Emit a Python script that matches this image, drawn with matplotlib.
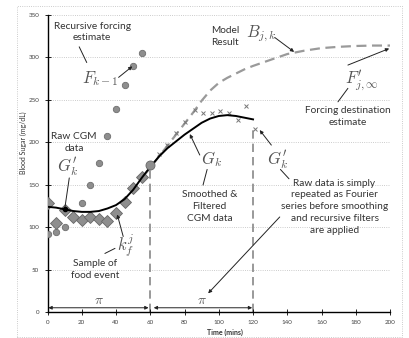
import matplotlib
matplotlib.use("Agg")
import matplotlib.pyplot as plt
from matplotlib.patches import Rectangle

plt.rcParams['font.family'] = ['Lato', 'DejaVu Sans']
plt.rcParams['mathtext.fontset'] = 'cm'

# raw CGM samples (circles)
raw_t = [0, 5, 10, 20, 25, 30, 35, 40, 45, 50, 55]
raw_bg = [92, 94, 100, 129, 150, 176, 207, 239, 267, 290, 305]

# filtered samples (diamonds)
filt_t = [0, 5, 10, 15, 20, 25, 30, 35, 40, 45, 50, 55]
filt_bg = [129, 105, 120, 112, 109, 112, 110, 107, 117, 130, 146, 159]

# repeated raw data (crosses)
rep_t = [65, 70, 75, 80, 86, 91, 96, 101, 106, 111, 116, 121]
rep_bg = [186, 197, 211, 224, 238, 235, 235, 237, 235, 226, 243, 216]

# smoothed & filtered CGM curve G_k
g_t = [0, 5, 10, 15, 20, 25, 30, 35, 40, 45, 50, 55, 60, 65, 70, 75, 80,
       85, 90, 95, 100, 105, 110, 115, 120]
g_bg = [124, 123, 121, 119, 118, 118, 119, 122, 126, 133, 144, 158, 171,
        183, 193, 201, 209, 216, 223, 228, 231, 232, 231, 229, 227]

# model result B_jk
b_t = [56, 60, 65, 70, 75, 80, 85, 90, 95, 100, 105, 110, 115, 120, 130,
       140, 150, 160, 170, 180, 190, 200]
b_bg = [160, 170, 183, 196, 209, 222, 235, 249, 261, 270, 276, 281, 286,
        290, 297, 304, 308, 311, 312.5, 313.5, 314, 314]

food_t, food_bg = 60, 173
gk_t, gk_bg = 10, 121
vlines_t = [60, 120]
vlines_top = [173, 216]

x_ticks = list(range(0, 201, 20))
y_ticks = list(range(0, 351, 50))

fig = plt.figure(figsize=(4.1, 3.38), dpi=100)
fig.patches.append(Rectangle((0.0415, 0.0044), 0.939, 0.978, transform=fig.transFigure,
                             fill=False, ls=':', lw=0.6, ec='#bbbbbb'))
ax = fig.add_axes([0.1159, 0.0769, 0.8354, 0.8787])

ax.set_xlim(0, 200)
ax.set_ylim(0, 350)
for yv in y_ticks[1:]:
    ax.axhline(yv, color='#bbbbbb', ls=':', lw=0.6, zorder=0)

for t, top in zip(vlines_t, vlines_top):
    ax.plot([t, t], [0, top], color='#888888', lw=1.2, dashes=(5, 3), zorder=1)

ax.plot(b_t, b_bg, color='#9a9a9a', lw=1.6, dashes=(4.5, 2.5), zorder=2)
ax.plot(rep_t, rep_bg, ls='none', marker='x', ms=3.3, mew=0.7, color='#777777', zorder=3)
ax.plot(raw_t, raw_bg, ls='none', marker='o', ms=4.6, mfc='#8e8e8e', mec='#6e6e6e',
        mew=0.6, zorder=3)
ax.plot(filt_t, filt_bg, ls='none', marker='D', ms=5.8, mfc='#8e8e8e', mec='#666666',
        mew=0.6, zorder=3)
ax.plot(g_t, g_bg, color='black', lw=1.4, zorder=4)
ax.plot([food_t], [food_bg], marker='o', ms=6.5, mfc='#8e8e8e', mec='#666666',
        mew=0.6, zorder=5)
ax.plot([gk_t], [gk_bg], marker='o', ms=3, color='black', zorder=5)

ax.set_xticks(x_ticks)
ax.set_yticks(y_ticks)
ax.tick_params(direction='inout', length=4, width=0.6, labelsize=4.5,
               labelcolor='#444444', pad=4)
for s in ['top', 'right']:
    ax.spines[s].set_visible(False)
for s in ['left', 'bottom']:
    ax.spines[s].set_linewidth(1.0)

fig.text(23 / 410, 1 - 143 / 338, 'Blood Sugar (mg/dL)', rotation=90, ha='center',
         va='center', fontsize=5, color='#333333')
fig.text(225 / 410, 1 - 332 / 338, 'Time (mins)', ha='center', va='center',
         fontsize=5, color='#333333', fontweight='bold')

txt = dict(fontsize=7.3, color='#333333', ha='center', va='center', linespacing=1.4)
mth = dict(fontsize=12, color='#555555', ha='center', va='center')
arr = dict(arrowstyle='-|>', color='#222222', lw=0.7, mutation_scale=5,
           shrinkA=0, shrinkB=0)
ln = dict(arrowstyle='-', color='#222222', lw=0.7, shrinkA=0, shrinkB=0)

ax.text(26, 330, 'Recursive forcing\nestimate', **txt)
ax.text(31, 275, r'$F_{k-1}$', **mth)
ax.annotate('', xy=(22.9, 294), xytext=(18.5, 312.5), arrowprops=ln)
ax.annotate('', xy=(49.5, 289.5), xytext=(41.5, 276.5), arrowprops=arr)

ax.text(15.5, 200, 'Raw CGM\ndata', **txt)
ax.text(11.5, 170, r"$G_k'$", **mth)
ax.annotate('', xy=(gk_t, gk_bg), xytext=(12.7, 158), arrowprops=ln)

ax.text(45.6, 78, r'$k_f^j$', **mth)
ax.annotate('', xy=(40.7, 115), xytext=(44.2, 89), arrowprops=arr)
ax.text(27.7, 50, 'Sample of\nfood event', **txt)
ax.annotate('', xy=(39.4, 75), xytext=(33.5, 69), arrowprops=ln)

ax.text(103.5, 325, 'Model\nResult', **txt)
ax.text(124.9, 328, r'$B_{j,k}$', **mth)
ax.annotate('', xy=(144, 306.5), xytext=(132.7, 323.5), arrowprops=arr)

ax.text(183.7, 272, r"$F_{j,\infty}'$", **mth)
ax.annotate('', xy=(199.5, 310.5), xytext=(175.4, 291), arrowprops=arr)
ax.text(175.2, 230, 'Forcing destination\nestimate', **txt)
ax.annotate('', xy=(175.4, 263.6), xytext=(169.6, 247.7), arrowprops=ln)

ax.text(96, 180, r'$G_k$', **mth)
ax.annotate('', xy=(83.1, 209.7), xytext=(88.9, 185), arrowprops=arr)
ax.text(94.7, 124, 'Smoothed &\nFiltered\nCGM data', **txt)
ax.annotate('', xy=(93.2, 168), xytext=(90.8, 149.6), arrowprops=ln)

ax.text(134.5, 179, r"$G_k'$", **mth)
ax.annotate('', xy=(123.9, 214.4), xytext=(130.7, 196.7), arrowprops=arr)
ax.text(167.6, 124, 'Raw data is simply\nrepeated as Fourier\nseries before smoothing\n'
        'and recursive filters\nare applied', **txt)
ax.annotate('', xy=(141, 157), xytext=(136, 168), arrowprops=ln)
ax.annotate('', xy=(93.8, 22), xytext=(135.6, 112), arrowprops=arr)

dbl = dict(arrowstyle='<|-|>', color='#222222', lw=0.7, mutation_scale=5,
           shrinkA=0, shrinkB=0)
ax.annotate('', xy=(0.5, 5), xytext=(59, 5), arrowprops=dbl)
ax.annotate('', xy=(62, 5), xytext=(119.5, 5), arrowprops=dbl)
ax.text(30, 13.5, r'$\pi$', fontsize=10, color='#555555', ha='center', va='center')
ax.text(90, 13.5, r'$\pi$', fontsize=10, color='#555555', ha='center', va='center')

fig.savefig('out.png', dpi=100)
